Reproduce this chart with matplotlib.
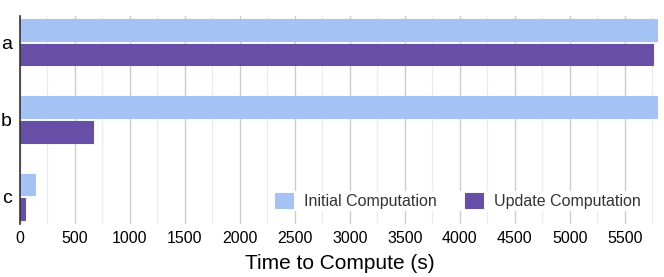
import matplotlib.pyplot as plt
from matplotlib.ticker import MultipleLocator

plt.rcParams['font.family'] = ['Liberation Sans', 'DejaVu Sans']

categories = ["a", "b", "c"]
initial = [5790, 5790, 140]
update = [5755, 660, 45]
xticks = list(range(0, 6000, 500))

fig = plt.figure(figsize=(6.64, 2.77), dpi=100)
ax = fig.add_axes([20 / 664, 1 - 224 / 277, 640 / 664, 208 / 277])

pos = list(range(len(categories)))
h = 0.28
off = 0.16
ax.barh([p - off for p in pos], initial, height=h, color="#a4c2f4",
        edgecolor="#a4c2f4", linewidth=0.8, label="Initial Computation", zorder=3)
ax.barh([p + off for p in pos], update, height=h, color="#674ea7",
        edgecolor="#674ea7", linewidth=0.8, label="Update Computation", zorder=3)

ax.set_xlim(0, 5820)
ax.set_ylim(2.35, -0.34)
ax.set_yticks(pos)
ax.set_yticklabels(categories, fontsize=14)
ax.set_xticks(xticks)
ax.xaxis.set_minor_locator(MultipleLocator(250))
ax.tick_params(axis="x", which="both", length=0, labelsize=11.5, pad=5)
ax.tick_params(axis="y", length=0, pad=6)
ax.grid(axis="x", which="major", color="#cccccc", linewidth=1, zorder=0)
ax.grid(axis="x", which="minor", color="#ececec", linewidth=1, zorder=0)

for s in ["top", "right", "bottom"]:
    ax.spines[s].set_visible(False)
ax.spines["left"].set_color("#333333")
ax.spines["left"].set_linewidth(1.2)
ax.spines["left"].set_zorder(4)

ax.set_xlabel("Time to Compute (s)", fontsize=15, labelpad=6)

leg = ax.legend(loc="center", bbox_to_anchor=(458 / 664, 1 - 201 / 277),
                bbox_transform=fig.transFigure, ncol=2, frameon=True,
                fontsize=11.5, handlelength=1.1, handleheight=1.1,
                handletextpad=0.7, columnspacing=1.8, borderpad=0.1,
                fancybox=False)
leg.get_frame().set_facecolor("white")
leg.get_frame().set_edgecolor("none")
leg.get_frame().set_alpha(1)
for t in leg.get_texts():
    t.set_color("#333333")

fig.savefig("out.png", dpi=100)
